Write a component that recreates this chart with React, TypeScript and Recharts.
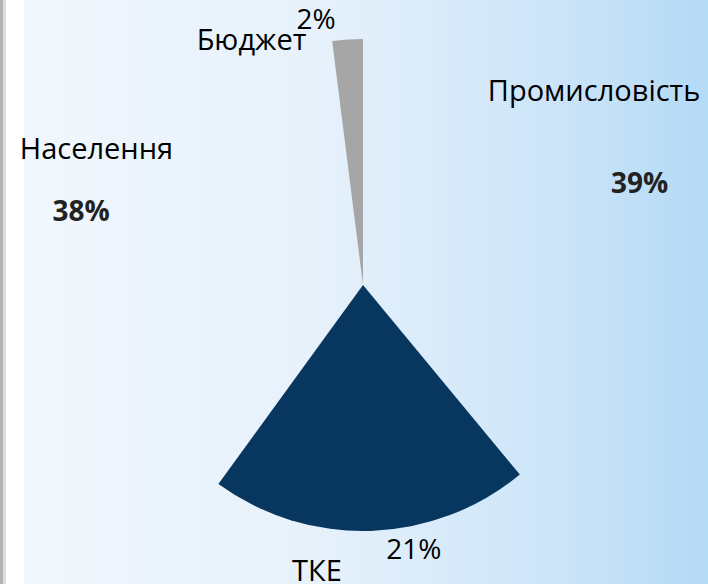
import React from "react";
import { PieChart, Pie, Cell } from "recharts";

const categories = ["Промисловість", "ТКЕ", "Населення", "Бюджет"];
const shares = [39, 21, 38, 2];
const sliceColors = ["transparent", "#07375f", "transparent", "#a6a6a6"];
const percentLabels = ["39%", "21%", "38%", "2%"];

// label layout: [angle shift (deg, clockwise), radial offset (px)] for percent and name
const pctOffsets: [number, number][] = [[0, 48], [-9, 25], [0, 45], [-6.5, 22]];
const nameOffsets: [number, number][] = [[-20.5, 57], [11, 42], [12.9, 54], [-20.7, 25]];
const pctBold = [true, false, true, false];

const data = categories.map((name, i) => ({ name, value: shares[i] }));

const RAD = Math.PI / 180;
const FONT = "'Open Sans', 'DejaVu Sans', sans-serif";

function renderLabel(props: any) {
  const { cx, cy, midAngle, outerRadius, index } = props;
  const pos = (off: [number, number]) => {
    const a = midAngle - off[0];
    const r = outerRadius + off[1];
    return { x: cx + r * Math.cos(-a * RAD), y: cy + r * Math.sin(-a * RAD) };
  };
  const n = pos(nameOffsets[index]);
  const p = pos(pctOffsets[index]);
  return (
    <g>
      <text x={n.x} y={n.y} textAnchor="middle" dominantBaseline="central" fontSize={29} fontFamily={FONT} fill="#000">
        {categories[index]}
      </text>
      <text
        x={p.x}
        y={p.y - 3}
        textAnchor="middle"
        dominantBaseline="central"
        fontSize={28}
        fontWeight={pctBold[index] ? 700 : 400}
        fontFamily={FONT}
        fill={pctBold[index] ? "#222" : "#000"}
      >
        {percentLabels[index]}
      </text>
    </g>
  );
}

export default function App() {
  return (
    <div
      style={{
        position: "absolute",
        left: 0,
        top: 0,
        width: 708,
        height: 584,
        overflow: "hidden",
        background:
          "linear-gradient(to right, #b4b4b4 0px, #b4b4b4 3px, #dedede 3px, #dedede 6px, #ffffff 6px, #ffffff 24px, #f1f7fd 24px, #e6f1fb 45%, #cfe6f9 75%, #b4daf6 100%)",
      }}
    >
      <PieChart width={708} height={584} margin={{ top: 0, right: 0, bottom: 0, left: 0 }}>
        <Pie
          data={data}
          dataKey="value"
          nameKey="name"
          cx={363}
          cy={285}
          outerRadius={246}
          startAngle={90}
          endAngle={-270}
          stroke="none"
          label={renderLabel}
          labelLine={false}
          isAnimationActive={false}
        >
          {data.map((d, i) => (
            <Cell key={d.name} fill={sliceColors[i]} stroke="none" />
          ))}
        </Pie>
      </PieChart>
    </div>
  );
}
